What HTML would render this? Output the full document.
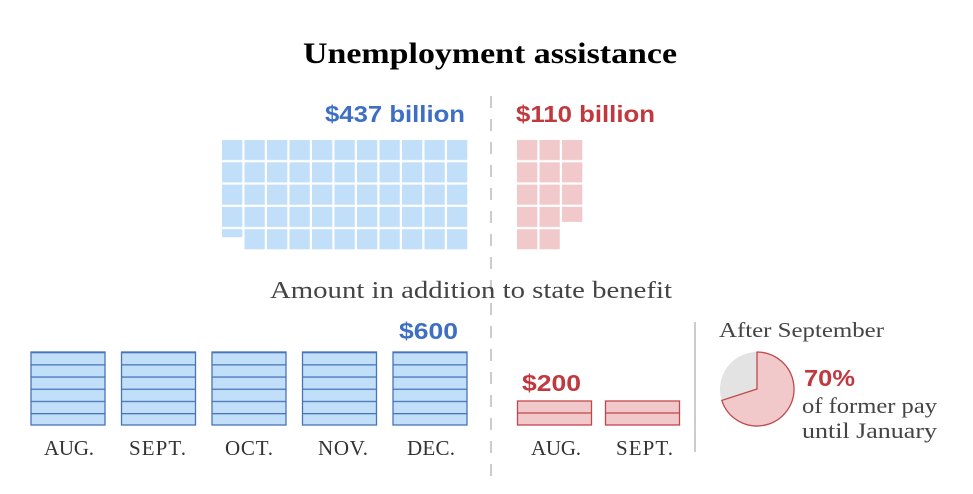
<!DOCTYPE html>
<html><head><meta charset="utf-8"><style>
html,body{margin:0;padding:0;background:#fff;width:973px;height:494px;overflow:hidden}
svg text{font-family:"Liberation Serif",serif}
.s{font-family:"Liberation Sans",sans-serif;font-weight:bold}
</style></head><body>
<svg width="973" height="494" viewBox="0 0 973 494" xmlns="http://www.w3.org/2000/svg">
<defs>
<pattern id="pb" patternUnits="userSpaceOnUse" x="222" y="140" width="22.5" height="22.3"><rect width="20.3" height="20.1" fill="#c2dffa"/></pattern>
<pattern id="pr" patternUnits="userSpaceOnUse" x="517" y="140" width="22.5" height="22.3"><rect width="20.3" height="20.1" fill="#f2c9ca"/></pattern>
<pattern id="sb" patternUnits="userSpaceOnUse" x="0" y="352" width="10" height="12.2"><rect width="10" height="12.2" fill="#c2dffa"/><rect width="10" height="1.3" fill="#4a74b8"/></pattern>
</defs>
<text x="303" y="63" textLength="374" lengthAdjust="spacingAndGlyphs" font-size="30" font-weight="bold" fill="#000">Unemployment assistance</text>
<text class="s" x="325" y="122" textLength="140" lengthAdjust="spacingAndGlyphs" font-size="23" fill="#3e6fc4">$437 billion</text>
<text class="s" x="516" y="122" textLength="139" lengthAdjust="spacingAndGlyphs" font-size="23" fill="#c0393f">$110 billion</text>
<line x1="491" y1="96" x2="491" y2="482" stroke="#ccc" stroke-width="2" stroke-dasharray="12,11"/>
<rect x="222" y="140" width="247.5" height="89.2" fill="url(#pb)"/>
<rect x="244.5" y="229.2" width="225" height="22.3" fill="url(#pb)"/>
<rect x="222" y="229.2" width="20.3" height="8" fill="#c2dffa"/>
<rect x="517" y="140" width="67.5" height="66.9" fill="url(#pr)"/>
<rect x="517" y="206.9" width="45" height="44.6" fill="url(#pr)"/>
<rect x="562" y="206.9" width="20.3" height="15" fill="#f2c9ca"/>
<text x="270" y="298" textLength="402" lengthAdjust="spacingAndGlyphs" font-size="24" fill="#444">Amount in addition to state benefit</text>
<text class="s" x="399" y="339" textLength="59" lengthAdjust="spacingAndGlyphs" font-size="23" fill="#3e6fc4">$600</text>
<g stroke="#4a74b8" stroke-width="1.3">
<rect x="31" y="352" width="74" height="73" fill="url(#sb)"/>
<rect x="121.5" y="352" width="74" height="73" fill="url(#sb)"/>
<rect x="212" y="352" width="74" height="73" fill="url(#sb)"/>
<rect x="302.5" y="352" width="74" height="73" fill="url(#sb)"/>
<rect x="393" y="352" width="74" height="73" fill="url(#sb)"/>
</g>
<g font-size="21" fill="#333" lengthAdjust="spacingAndGlyphs">
<text x="44" y="455" textLength="50">AUG.</text><text x="129" y="455" textLength="57">SEPT.</text><text x="225" y="455" textLength="48">OCT.</text><text x="318" y="455" textLength="50">NOV.</text><text x="407" y="455" textLength="48">DEC.</text>
<text x="531" y="455" textLength="50">AUG.</text><text x="616" y="455" textLength="57">SEPT.</text>
</g>
<text class="s" x="522" y="391" textLength="59" lengthAdjust="spacingAndGlyphs" font-size="23" fill="#c0393f">$200</text>
<g stroke="#c0484c" stroke-width="1.3" fill="#f2c9ca">
<rect x="517.5" y="401" width="74" height="24"/><line x1="517.5" y1="413" x2="591.5" y2="413"/>
<rect x="605.5" y="401" width="74" height="24"/><line x1="605.5" y1="413" x2="679.5" y2="413"/>
</g>
<line x1="695" y1="322" x2="695" y2="452" stroke="#ccc" stroke-width="2"/>
<text x="719" y="337" textLength="165" lengthAdjust="spacingAndGlyphs" font-size="21" fill="#444">After September</text>
<circle cx="757" cy="389" r="37" fill="#e3e3e3"/>
<path d="M757,389 L757,352 A37,37 0 1 1 721.8,400.4 Z" fill="#f2c9ca" stroke="#c0484c" stroke-width="1.3"/>
<text class="s" x="804" y="386" textLength="51" lengthAdjust="spacingAndGlyphs" font-size="23" fill="#c0393f">70%</text>
<text x="802" y="413" textLength="135" lengthAdjust="spacingAndGlyphs" font-size="22" fill="#444">of former pay</text>
<text x="802" y="438" textLength="135" lengthAdjust="spacingAndGlyphs" font-size="22" fill="#444">until January</text>
</svg>
</body></html>
